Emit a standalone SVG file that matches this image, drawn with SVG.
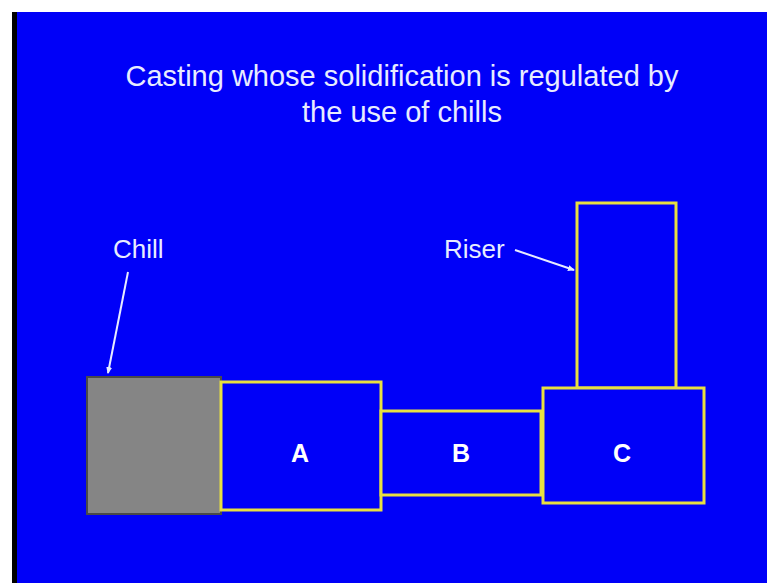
<svg xmlns="http://www.w3.org/2000/svg" width="767" height="583" viewBox="0 0 767 583">
<defs>
<style>
.t{font-family:"Liberation Sans",Arial,sans-serif;fill:#e8ecff}
.box{fill:#0000f8;stroke:#e8e040;stroke-width:3}
.lbl{font-family:"Liberation Sans",Arial,sans-serif;font-weight:bold;font-size:25px;fill:#ffffff;text-anchor:middle}
.ptr{stroke:#e8ecff;stroke-width:2;fill:none}
</style>
<marker id="ah" markerWidth="8" markerHeight="8" refX="6" refY="4" orient="auto" markerUnits="userSpaceOnUse">
<path d="M0,1 L7,4 L0,7 z" fill="#e8ecff"/>
</marker>
</defs>
<rect width="767" height="583" fill="#ffffff"/>
<rect x="12" y="12" width="755" height="571" fill="#000000"/>
<rect x="17" y="12" width="750" height="571" fill="#0000f8"/>
<g id="title">
<text class="t" x="402" y="86" font-size="29" text-anchor="middle">Casting whose solidification is regulated by</text>
<text class="t" x="402" y="122" font-size="29" text-anchor="middle">the use of chills</text>
</g>
<g id="chill">
<rect x="87" y="377" width="134" height="137" fill="#858585" stroke="#4a4a4a" stroke-width="2"/>
</g>
<g id="A">
<rect class="box" x="221" y="382" width="160" height="128"/>
<text class="lbl" x="300" y="462">A</text>
</g>
<g id="B">
<rect class="box" x="381" y="411" width="160" height="84"/>
<text class="lbl" x="461" y="462">B</text>
</g>
<g id="riser">
<rect class="box" x="577" y="203" width="99" height="185"/>
</g>
<g id="C">
<rect class="box" x="543" y="388" width="161" height="115"/>
<text class="lbl" x="622" y="462">C</text>
</g>
<g id="chill-label">
<text class="t" x="113" y="258" font-size="26">Chill</text>
</g>
<g id="riser-label">
<text class="t" x="444" y="258" font-size="26">Riser</text>
</g>
<g id="connectors">
<line class="ptr" x1="128" y1="272" x2="108" y2="373" marker-end="url(#ah)"/>
<line class="ptr" x1="515" y1="250" x2="574" y2="270" marker-end="url(#ah)"/>
</g>
</svg>
